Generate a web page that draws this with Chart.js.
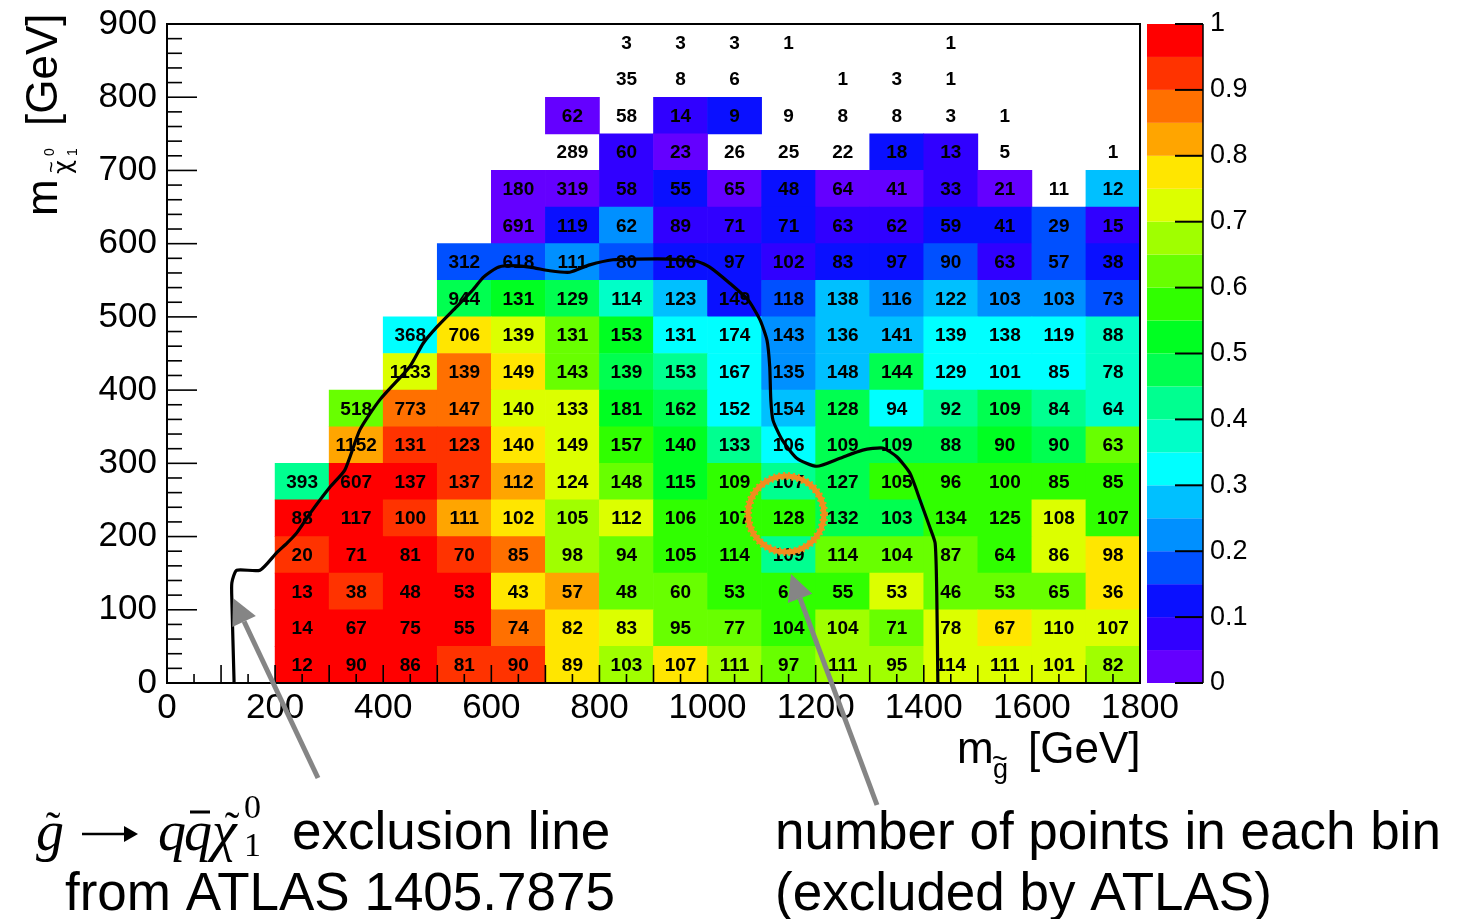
<!DOCTYPE html>
<html>
<head>
<meta charset="utf-8">
<title>Excluded fraction per bin</title>
<script src="https://cdn.jsdelivr.net/npm/chart.js@4.4.1/dist/chart.umd.min.js"></script>
<style>
  html, body { margin: 0; padding: 0; background: #fff; }
  canvas { display: block; }
</style>
</head>
<body>
<canvas id="chart" width="1460" height="919"></canvas>
<script>
// lower bin edges (GeV)
const gluinoBins = [200, 300, 400, 500, 600, 700, 800, 900, 1000, 1100, 1200, 1300, 1400, 1500, 1600, 1700];
const neutralinoBins = [850, 800, 750, 700, 650, 600, 550, 500, 450, 400, 350, 300, 250, 200, 150, 100, 50, 0];

// number of points per bin, rows top to bottom
const _ = null;
const pointCounts = [
    [_, _, _, _, _, _, 3, 3, 3, 1, _, _, 1, _, _, _],
    [_, _, _, _, _, _, 35, 8, 6, _, 1, 3, 1, _, _, _],
    [_, _, _, _, _, 62, 58, 14, 9, 9, 8, 8, 3, 1, _, _],
    [_, _, _, _, _, 289, 60, 23, 26, 25, 22, 18, 13, 5, _, 1],
    [_, _, _, _, 180, 319, 58, 55, 65, 48, 64, 41, 33, 21, 11, 12],
    [_, _, _, _, 691, 119, 62, 89, 71, 71, 63, 62, 59, 41, 29, 15],
    [_, _, _, 312, 618, 111, 80, 106, 97, 102, 83, 97, 90, 63, 57, 38],
    [_, _, _, 944, 131, 129, 114, 123, 149, 118, 138, 116, 122, 103, 103, 73],
    [_, _, 368, 706, 139, 131, 153, 131, 174, 143, 136, 141, 139, 138, 119, 88],
    [_, _, 1133, 139, 149, 143, 139, 153, 167, 135, 148, 144, 129, 101, 85, 78],
    [_, 518, 773, 147, 140, 133, 181, 162, 152, 154, 128, 94, 92, 109, 84, 64],
    [_, 1152, 131, 123, 140, 149, 157, 140, 133, 106, 109, 109, 88, 90, 90, 63],
    [393, 607, 137, 137, 112, 124, 148, 115, 109, 107, 127, 105, 96, 100, 85, 85],
    [88, 117, 100, 111, 102, 105, 112, 106, 107, 128, 132, 103, 134, 125, 108, 107],
    [20, 71, 81, 70, 85, 98, 94, 105, 114, 109, 114, 104, 87, 64, 86, 98],
    [13, 38, 48, 53, 43, 57, 48, 60, 53, 61, 55, 53, 46, 53, 65, 36],
    [14, 67, 75, 55, 74, 82, 83, 95, 77, 104, 104, 71, 78, 67, 110, 107],
    [12, 90, 86, 81, 90, 89, 103, 107, 111, 97, 111, 95, 114, 111, 101, 82]
];

// fraction excluded by ATLAS (colour), null = empty bin
const excludedFraction = [
    [_, _, _, _, _, _, _, _, _, _, _, _, _, _, _, _],
    [_, _, _, _, _, _, _, _, _, _, _, _, _, _, _, _],
    [_, _, _, _, _, 0.02, _, 0.07, 0.12, _, _, _, _, _, _, _],
    [_, _, _, _, _, _, 0.07, 0.02, _, _, _, 0.12, 0.07, _, _, _],
    [_, _, _, _, 0.02, 0.02, 0.07, 0.12, 0.02, 0.12, 0.02, 0.02, 0.07, 0.02, _, 0.27],
    [_, _, _, _, 0.02, 0.12, 0.22, 0.07, 0.07, 0.12, 0.07, 0.07, 0.12, 0.12, 0.17, 0.07],
    [_, _, _, 0.17, 0.17, 0.22, 0.17, 0.12, 0.12, 0.07, 0.12, 0.12, 0.17, 0.07, 0.17, 0.12],
    [_, _, _, 0.47, 0.52, 0.47, 0.37, 0.27, 0.12, 0.17, 0.27, 0.22, 0.27, 0.22, 0.22, 0.17],
    [_, _, 0.32, 0.77, 0.72, 0.62, 0.52, 0.32, 0.32, 0.22, 0.27, 0.27, 0.32, 0.32, 0.32, 0.37],
    [_, _, 0.72, 0.87, 0.77, 0.62, 0.47, 0.42, 0.32, 0.22, 0.27, 0.47, 0.32, 0.32, 0.32, 0.37],
    [_, 0.62, 0.87, 0.87, 0.72, 0.72, 0.52, 0.47, 0.32, 0.27, 0.47, 0.32, 0.42, 0.47, 0.42, 0.37],
    [_, 0.82, 0.92, 0.92, 0.77, 0.72, 0.57, 0.52, 0.42, 0.32, 0.47, 0.47, 0.47, 0.52, 0.47, 0.62],
    [0.42, 0.97, 0.97, 0.92, 0.82, 0.72, 0.62, 0.52, 0.57, 0.42, 0.47, 0.57, 0.57, 0.57, 0.57, 0.57],
    [0.97, 0.97, 0.92, 0.82, 0.77, 0.67, 0.72, 0.57, 0.57, 0.57, 0.47, 0.47, 0.57, 0.57, 0.72, 0.57],
    [0.92, 0.97, 0.97, 0.92, 0.87, 0.67, 0.62, 0.57, 0.57, 0.42, 0.62, 0.62, 0.62, 0.57, 0.72, 0.77],
    [0.97, 0.92, 0.97, 0.97, 0.77, 0.82, 0.62, 0.62, 0.57, 0.57, 0.57, 0.72, 0.62, 0.62, 0.62, 0.77],
    [0.97, 0.97, 0.97, 0.97, 0.87, 0.77, 0.72, 0.62, 0.62, 0.57, 0.67, 0.62, 0.72, 0.77, 0.72, 0.72],
    [0.97, 0.97, 0.97, 0.92, 0.92, 0.77, 0.67, 0.77, 0.67, 0.62, 0.67, 0.67, 0.72, 0.72, 0.72, 0.67]
];

// ATLAS 1405.7875 exclusion contour
const exclusionX = [124, 124, 120, 120, 129, 172, 203, 222, 240, 265, 302, 329, 357, 394, 449, 474, 499, 536, 566, 585, 610, 629, 671, 708, 745, 782, 825, 869, 930, 980, 1004, 1041, 1075, 1097, 1110, 1115, 1117, 1121, 1138, 1165, 1202, 1245, 1287, 1324, 1350, 1374, 1393, 1411, 1421, 1424, 1426, 1426];
const exclusionY = [0, 4, 113, 137, 154, 154, 178, 191, 205, 232, 268, 291, 346, 387, 432, 464, 486, 514, 537, 554, 567, 570, 568, 563, 561, 571, 578, 579, 579, 576, 568, 546, 523, 496, 468, 432, 387, 359, 332, 307, 296, 307, 318, 321, 309, 287, 250, 213, 191, 123, 4, 0];

const fractionTicks = [0, 0.1, 0.2, 0.3, 0.4, 0.5, 0.6, 0.7, 0.8, 0.9, 1];

// 20-step rainbow palette, 0 -> 1
const palette = [
    '#6400ff', '#3000ff', '#0a10ff', '#0050ff', '#0090ff', '#00c0ff', '#00ffff', '#00ffc8', '#00ff90', '#00ff50',
    '#00ff22', '#30ff00', '#68ff00', '#a0ff00', '#dcff00', '#ffe600', '#ffa500', '#ff7000', '#ff3300', '#ff0000'
];

function colorFor(f) {
    if (f === null || f === undefined) return 'rgba(255,255,255,0)';
    return palette[Math.min(19, Math.floor(f * 20))];
}

const cells = [];
neutralinoBins.forEach((ylo, r) => {
    gluinoBins.forEach((xlo, c) => {
        const n = pointCounts[r][c];
        if (n === null) return;
        cells.push({ x: xlo + 50, y: [ylo, ylo + 50], n: n, f: excludedFraction[r][c] });
    });
});

const SANS = '"Liberation Sans", Arial, Helvetica, sans-serif';
const SERIF = '"Liberation Serif", "Times New Roman", serif';
Chart.defaults.font.family = SANS;
Chart.defaults.color = '#000';

// numbers inside the cells (drawn before the exclusion line)
const cellLabels = {
    id: 'cellLabels',
    afterDatasetDraw(chart, args) {
        if (args.index !== 0) return;
        const ctx = chart.ctx;
        const data = chart.data.datasets[0].data;
        ctx.save();
        ctx.font = 'bold 19px ' + SANS;
        ctx.fillStyle = '#000';
        ctx.textAlign = 'center';
        ctx.textBaseline = 'middle';
        args.meta.data.forEach((bar, i) => {
            ctx.fillText(String(data[i].n), bar.x, (bar.y + bar.base) / 2 + 1);
        });
        ctx.restore();
    }
};

function line(ctx, x1, y1, x2, y2) {
    ctx.beginPath();
    ctx.moveTo(x1, y1);
    ctx.lineTo(x2, y2);
    ctx.stroke();
}

function arrow(ctx, x1, y1, x2, y2, len, half) {
    const ang = Math.atan2(y2 - y1, x2 - x1);
    const bx = x2 - len * Math.cos(ang), by = y2 - len * Math.sin(ang);
    line(ctx, x1, y1, bx, by);
    ctx.beginPath();
    ctx.moveTo(x2, y2);
    ctx.lineTo(bx + half * Math.sin(ang), by - half * Math.cos(ang));
    ctx.lineTo(bx - half * Math.sin(ang), by + half * Math.cos(ang));
    ctx.closePath();
    ctx.fill();
}

// frame, ROOT-style inner ticks, colour bar, titles and annotations
const decorations = {
    id: 'decorations',
    beforeDraw(chart) {
        const ctx = chart.ctx;
        ctx.save();
        ctx.fillStyle = '#fff';
        ctx.fillRect(0, 0, chart.width, chart.height);
        ctx.restore();
    },
    afterDatasetsDraw(chart) {
        const ctx = chart.ctx;
        const { left, right, top, bottom } = chart.chartArea;
        const xs = chart.scales.x, ys = chart.scales.y, zs = chart.scales.y2;
        ctx.save();
        ctx.strokeStyle = '#000';
        ctx.lineWidth = 1.6;
        for (let v = 0; v <= 1800; v += 50) {
            const px = xs.getPixelForValue(v);
            line(ctx, px, bottom, px, bottom - (v % 100 === 0 ? 18 : 9));
        }
        for (let v = 0; v <= 900; v += 20) {
            const py = ys.getPixelForValue(v);
            line(ctx, left, py, left + (v % 100 === 0 ? 30 : 15), py);
        }
        ctx.lineWidth = 2;
        ctx.strokeRect(left, top, right - left, bottom - top);

        // colour bar
        const cbL = right + 7, cbR = right + 63;
        palette.forEach((col, i) => {
            const y0 = zs.getPixelForValue(i * 0.05), y1 = zs.getPixelForValue((i + 1) * 0.05);
            ctx.fillStyle = col;
            ctx.fillRect(cbL, y1, cbR - cbL, y0 - y1);
        });
        ctx.lineWidth = 1.5;
        line(ctx, cbR, zs.getPixelForValue(1), cbR, zs.getPixelForValue(0));
        ctx.lineWidth = 2;
        fractionTicks.forEach(t => {
            const py = zs.getPixelForValue(t);
            line(ctx, cbR - 28, py, cbR, py);
        });
        ctx.restore();
    },
    afterDraw(chart) {
        const ctx = chart.ctx;
        ctx.save();
        ctx.fillStyle = '#000';
        ctx.textBaseline = 'alphabetic';
        ctx.textAlign = 'left';

        // x title: m_g~ [GeV]
        ctx.font = '44px ' + SANS;
        ctx.fillText('m', 957, 763);
        ctx.fillText('[GeV]', 1028, 763);
        ctx.font = '27px ' + SANS;
        ctx.fillText('g', 993, 778);
        ctx.textAlign = 'center';
        ctx.fillText('~', 1000, 768);

        // y title: m_chi~10 [GeV], rotated
        ctx.save();
        ctx.translate(57, 216);
        ctx.rotate(-Math.PI / 2);
        ctx.textAlign = 'left';
        ctx.font = '44px ' + SANS;
        ctx.fillText('m', 0, 0);
        ctx.fillText('[GeV]', 90, 0);
        ctx.font = '24px "DejaVu Sans", ' + SANS;
        ctx.fillText('\u03C7', 42, 14);
        ctx.font = '20px ' + SANS;
        ctx.fillText('~', 43, 1);
        ctx.font = '14px ' + SANS;
        ctx.fillText('0', 60, -3);
        ctx.fillText('1', 60, 20);
        ctx.restore();

        // arrows and highlight circle
        ctx.strokeStyle = '#858585';
        ctx.fillStyle = '#858585';
        ctx.lineWidth = 5;
        arrow(ctx, 318, 778, 233, 598, 26, 13);
        arrow(ctx, 877, 805, 791, 574, 26, 13);
        ctx.strokeStyle = '#f28c1e';
        ctx.lineWidth = 5;
        ctx.beginPath();
        ctx.arc(786, 514, 38, 0, Math.PI * 2);
        ctx.stroke();
        ctx.lineWidth = 2;
        ctx.setLineDash([2, 3]);
        ctx.beginPath();
        ctx.arc(786, 514, 41, 0, Math.PI * 2);
        ctx.stroke();
        ctx.beginPath();
        ctx.arc(786, 514, 35, 0, Math.PI * 2);
        ctx.stroke();
        ctx.setLineDash([]);

        // left annotation: g~ -> q qbar chi~10 exclusion line
        ctx.fillStyle = '#000';
        ctx.strokeStyle = '#000';
        ctx.textAlign = 'left';
        ctx.font = 'italic 56px ' + SERIF;
        ctx.fillText('g', 36, 850);
        ctx.fillText('q', 158, 850);
        ctx.fillText('q', 184, 850);
        ctx.fillText('\u03C7', 212, 850);
        ctx.lineWidth = 2.5;
        arrow(ctx, 82, 834, 138, 834, 14, 8);
        ctx.lineWidth = 3;
        line(ctx, 190, 812, 210, 812);
        ctx.textAlign = 'center';
        ctx.font = '44px ' + SERIF;
        ctx.fillText('\u02DC', 53, 842);
        ctx.fillText('\u02DC', 232, 842);
        ctx.textAlign = 'left';
        ctx.font = '34px ' + SERIF;
        ctx.fillText('0', 244, 818);
        ctx.fillText('1', 244, 856);

        ctx.font = '53px ' + SANS;
        ctx.fillText('exclusion line', 292, 849);
        ctx.fillText('from ATLAS 1405.7875', 65, 910);
        ctx.fillText('number of points in each bin', 775, 849);
        ctx.fillText('(excluded by ATLAS)', 775, 910);
        ctx.restore();
    }
};

const ctx = document.getElementById('chart').getContext('2d');
new Chart(ctx, {
    type: 'bar',
    data: {
        datasets: [
            {
                type: 'bar',
                data: cells,
                backgroundColor: c => colorFor(c.raw ? c.raw.f : null),
                borderWidth: 0,
                barPercentage: 1,
                categoryPercentage: 1,
                order: 1
            },
            {
                type: 'line',
                data: exclusionX.map((x, i) => ({ x: x, y: exclusionY[i] })),
                borderColor: '#000',
                borderWidth: 3.2,
                pointRadius: 0,
                tension: 0.2,
                fill: false,
                order: 0
            }
        ]
    },
    options: {
        responsive: false,
        animation: false,
        devicePixelRatio: 1,
        layout: { padding: { top: 24, left: 0, right: 0, bottom: 0 } },
        plugins: { legend: { display: false }, tooltip: { enabled: false } },
        scales: {
            x: {
                type: 'linear',
                min: 0,
                max: 1800,
                offset: false,
                grid: { display: false, drawTicks: true, tickLength: 4, offset: false },
                border: { display: false },
                ticks: {
                    stepSize: 200,
                    autoSkip: false,
                    maxRotation: 0,
                    padding: 0,
                    color: '#000',
                    font: { size: 35 },
                    callback: v => String(v)
                },
                afterFit: s => { s.height = 236; }
            },
            y: {
                type: 'linear',
                min: 0,
                max: 900,
                grid: { display: false, drawTicks: true, tickLength: 10 },
                border: { display: false },
                ticks: {
                    stepSize: 100,
                    padding: 0,
                    color: '#000',
                    font: { size: 35 },
                    callback: v => String(v)
                },
                afterFit: s => { s.width = 167; }
            },
            y2: {
                type: 'linear',
                position: 'right',
                min: 0,
                max: 1,
                grid: { display: false, drawTicks: true, tickLength: 70 },
                border: { display: false },
                ticks: {
                    stepSize: 0.1,
                    padding: 0,
                    color: '#000',
                    font: { size: 27 },
                    callback: v => String(+v.toFixed(1))
                },
                afterFit: s => { s.width = 320; }
            }
        }
    },
    plugins: [cellLabels, decorations]
});
</script>
</body>
</html>
